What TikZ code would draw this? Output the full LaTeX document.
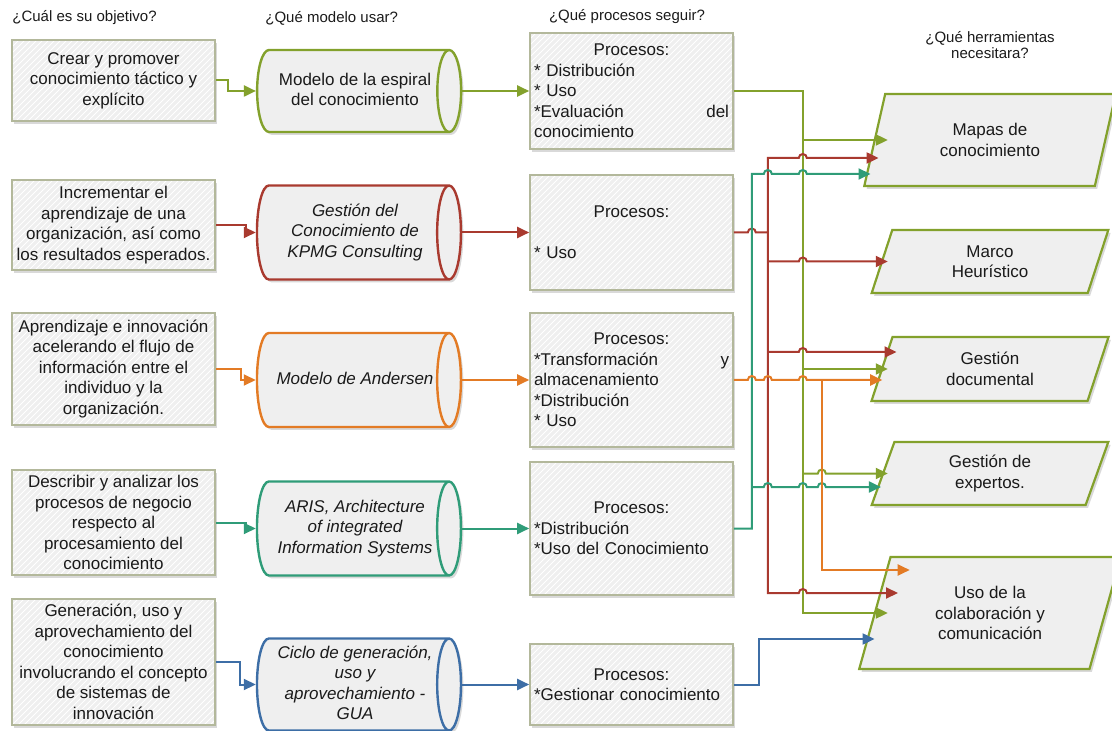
\documentclass[tikz,border=0pt]{standalone}
\usepackage{fontspec}
\setmainfont{Liberation Sans}
\usepackage{tikz}
\usetikzlibrary{arrows.meta,shapes.geometric,shadows,patterns,calc}
\definecolor{tinta}{HTML}{1A1A1A}
\definecolor{borde}{HTML}{B3B89B}
\definecolor{relleno}{HTML}{EFEFEF}
\definecolor{verde}{HTML}{83A12C}
\definecolor{rojo}{HTML}{A93A2F}
\definecolor{naranja}{HTML}{E37B25}
\definecolor{turquesa}{HTML}{2F9C78}
\definecolor{azul}{HTML}{3D6EA6}
\tikzset{
  sombra/.style={drop shadow={shadow xshift=1.2pt,shadow yshift=-1.4pt,opacity=.25,fill=black!60}},
  caja/.style={sombra,preaction={fill=relleno},preaction={pattern=north east lines,pattern color=white},draw=borde,line width=.8pt,align=center,inner sep=2pt,text=tinta},
  proceso/.style={caja,align=left,text width=97.5pt},
  modelo/.style={shape=cylinder,draw=#1,line width=1.2pt,fill=relleno,sombra,minimum height=102pt,aspect=.34,inner sep=2pt,text=tinta},
  cursiva/.style={font=\fontsize{8.5}{10.25}\selectfont\itshape},
  herramienta/.style={shape=trapezium,trapezium left angle=63,trapezium right angle=117,trapezium stretches body,draw=verde,line width=1.1pt,fill=relleno,sombra,align=center,inner sep=2pt,text=tinta},
  flecha/.style={-{Triangle[length=6pt,width=5.5pt]},line width=1pt,color=#1},
  titulo/.style={font=\fontsize{7.5}{8}\selectfont,text=tinta,inner sep=0pt},
}
% salto de linea sobre un cruce
\newcommand\salto[2]{-- ($(#1|-#2)+(-4,0)$) arc[start angle=180,end angle=0,radius=2pt]}
% texto del cilindro con caja fija (el tamano lo fijan minimum width/height)
\newcommand\textocil[1]{\makebox[0pt]{\rule[-15.5pt]{0pt}{31pt}\hspace*{5pt}\raisebox{-2.1pt}{\smash{\begin{tabular}{@{}c@{}}#1\end{tabular}}}}}

\begin{document}
\begin{tikzpicture}[x=0.5pt,y=-0.5pt,font=\fontsize{8.5}{10.25}\selectfont]
  \useasboundingbox (0,0) rectangle (1112,731);
  % preguntas
  \node[titulo,anchor=west] (t1) at (12,18) {¿Cuál es su objetivo?};
  \node[titulo,anchor=west] (t2) at (265,18) {¿Qué modelo usar?};
  \node[titulo] (t3) at (627,17) {¿Qué procesos seguir?};
  \node[titulo,align=center] (t4) at (990,45) {¿Qué herramientas\\necesitara?};
  % objetivos
  \node[caja,minimum width=101.5pt,minimum height=40.5pt] (obj1) at (113.5,80.5) {Crear y promover\\conocimiento táctico y\\explícito};
  \node[caja,minimum width=101.5pt,minimum height=45pt] (obj2) at (113.5,225) {Incrementar el\\aprendizaje de una\\organización, así como\\los resultados esperados.};
  \node[caja,minimum width=101.5pt,minimum height=56pt] (obj3) at (113.5,369) {Aprendizaje e innovación\\acelerando el flujo de\\información entre el\\individuo y la\\organización.};
  \node[caja,minimum width=101.5pt,minimum height=52.5pt] (obj4) at (113.5,522.5) {Describir y analizar los\\procesos de negocio\\respecto al\\procesamiento del\\conocimiento};
  \node[caja,minimum width=101.5pt,minimum height=63pt] (obj5) at (113.5,662) {Generación, uso y\\aprovechamiento del\\conocimiento\\involucrando el concepto\\de sistemas de\\innovación};
  % modelos (minimum width = alto del cilindro tumbado)
  \node[modelo=verde,minimum width=41pt] (mod1) at (350,91) {\textocil{Modelo de la espiral\\del conocimiento}};
  \node[modelo=rojo,minimum width=47pt,cursiva] (mod2) at (350,232.5) {\textocil{Gestión del\\Conocimiento de\\KPMG Consulting}};
  \node[modelo=naranja,minimum width=47pt,cursiva] (mod3) at (350,380) {\textocil{Modelo de Andersen}};
  \node[modelo=turquesa,minimum width=47pt,cursiva] (mod4) at (350,528.5) {\textocil{ARIS, Architecture\\of integrated\\Information Systems}};
  \node[modelo=azul,minimum width=46pt,cursiva] (mod5) at (350,684.5) {\textocil{Ciclo de generación,\\uso y\\aprovechamiento -\\GUA}};
  % procesos
  \node[proceso,minimum height=58pt] (proc1) at (631.5,91) {\hfill Procesos:\hfill\mbox{}\\{}* Distribución\\{}* Uso\\{}*Evaluación\hfill del\\conocimiento};
  \node[proceso,minimum height=57.5pt] (proc2) at (631.5,232.5) {\hfill Procesos:\hfill\mbox{}\\\mbox{}\\{}* Uso};
  \node[proceso,minimum height=67pt] (proc3) at (631.5,380) {\hfill Procesos:\hfill\mbox{}\\{}*Transformación\hfill y\\almacenamiento\\{}*Distribución\\{}* Uso};
  \node[proceso,minimum height=66.5pt] (proc4) at (631.5,528.5) {\hfill Procesos:\hfill\mbox{}\\{}*Distribución\\{}*Uso del Conocimiento};
  \node[proceso,minimum height=40.5pt] (proc5) at (631.5,684.5) {\hfill Procesos:\hfill\mbox{}\\{}*Gestionar conocimiento};
  % herramientas
  \node[herramienta,minimum width=125.7pt,minimum height=46pt] (map) at (990,140) {Mapas de\\conocimiento};
  \node[herramienta,minimum width=118.3pt,minimum height=31.5pt] (mar) at (990,261.5) {Marco\\Heurístico};
  \node[herramienta,minimum width=118.5pt,minimum height=32pt] (doc) at (990,369) {Gestión\\documental};
  \node[herramienta,minimum width=118.3pt,minimum height=31.5pt] (exp) at (990,473.5) {Gestión de\\expertos.};
  \node[herramienta,minimum width=130.8pt,minimum height=56pt] (uso) at (990,613) {Uso de la\\colaboración y\\comunicación};
  % mitad del lado inclinado de cada herramienta
  \coordinate (mapl) at ($(map.center)+(-102.2,0)$);
  \coordinate (marl) at ($(mar.center)+(-102.2,0)$);
  \coordinate (docl) at ($(doc.center)+(-102.2,0)$);
  \coordinate (expl) at ($(exp.center)+(-102.2,0)$);
  \coordinate (usol) at ($(uso.center)+(-102.2,0)$);
  % objetivo -> modelo -> procesos
  \draw[flecha=verde] (obj1.east) -- ++(12,0) |- (mod1.west);
  \draw[flecha=rojo] (obj2.east) -- ++(30,0) |- (mod2.west);
  \draw[flecha=naranja] (obj3.east) -- ++(25,0) |- (mod3.west);
  \draw[flecha=turquesa] (obj4.east) -- ++(30,0) |- (mod4.west);
  \draw[flecha=azul] (obj5.east) -- ++(24,0) |- (mod5.west);
  \draw[flecha=verde] (mod1.east) -- (mod1.east -| proc1.west);
  \draw[flecha=rojo] (mod2.east) -- (mod2.east -| proc2.west);
  \draw[flecha=naranja] (mod3.east) -- (mod3.east -| proc3.west);
  \draw[flecha=turquesa] (mod4.east) -- (mod4.east -| proc4.west);
  \draw[flecha=azul] (mod5.east) -- (mod5.east -| proc5.west);
  % buses verticales
  \coordinate (gx) at ($(proc1.east)+(69,0)$);
  \coordinate (rx) at ($(proc2.east)+(34,0)$);
  \coordinate (tx) at ($(proc4.east)+(18,0)$);
  \coordinate (ox) at ($(proc3.east)+(88,0)$);
  \coordinate (bx) at ($(proc5.east)+(25,0)$);
  % puntas sobre el lado inclinado
  \coordinate (rmap) at ($(mapl)+(-9.2,18)$);
  \coordinate (tmap) at ($(mapl)+(-17.3,34)$);
  \coordinate (rdoc) at ($(docl)+(8.7,-17)$);
  \coordinate (odoc) at ($(docl)+(-5.6,11)$);
  \coordinate (texp) at ($(expl)+(-6.9,13.5)$);
  \coordinate (ruso) at ($(usol)+(10.2,-20)$);
  \coordinate (ouso) at ($(usol)+(21.9,-43)$);
  \coordinate (buso) at ($(usol)+(-13.2,26)$);
  % verde
  \draw[flecha=verde] (proc1.east) -- (gx) |- (usol);
  \draw[flecha=verde] (gx |- mapl) -- (mapl);
  \draw[flecha=verde] (gx |- docl) -- (docl);
  \draw[flecha=verde] (gx |- expl) \salto{ox}{expl} -- (expl);
  % rojo
  \draw[flecha=rojo] (proc2.east) \salto{tx}{proc2.east} -- (rx |- proc2.east) -- (rx |- rmap) \salto{gx}{rmap} -- (rmap);
  \draw[flecha=rojo] (rx |- proc2.east) -- (rx |- ruso) \salto{gx}{ruso} -- (ruso);
  \draw[flecha=rojo] (rx |- marl) \salto{gx}{marl} -- (marl);
  \draw[flecha=rojo] (rx |- rdoc) \salto{gx}{rdoc} -- (rdoc);
  % turquesa
  \draw[flecha=turquesa] (proc4.east) -- (tx |- proc4.east) -- (tx |- tmap) \salto{rx}{tmap} \salto{gx}{tmap} -- (tmap);
  \draw[flecha=turquesa] (tx |- texp) \salto{rx}{texp} \salto{gx}{texp} \salto{ox}{texp} -- (texp);
  % naranja
  \draw[flecha=naranja] (proc3.east) \salto{tx}{odoc} \salto{rx}{odoc} \salto{gx}{odoc} -- (odoc);
  \draw[flecha=naranja] (ox |- proc3.east) -- (ox |- ouso) -- (ouso);
  % azul
  \draw[flecha=azul] (proc5.east) -- (bx |- proc5.east) |- (buso);
\end{tikzpicture}
\end{document}
